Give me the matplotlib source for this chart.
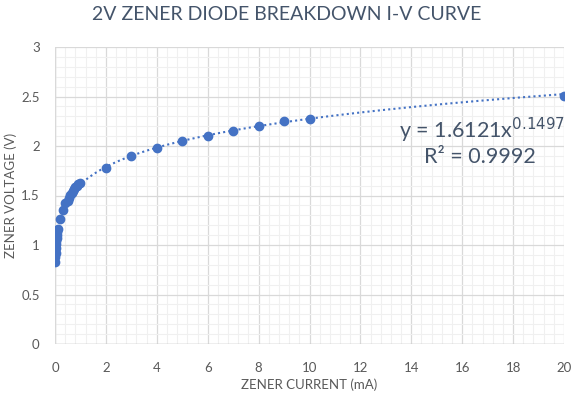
import numpy as np
import matplotlib
matplotlib.use("Agg")
import matplotlib.pyplot as plt
from matplotlib.ticker import MultipleLocator

plt.rcParams['font.family'] = ['Lato', 'DejaVu Sans']

# measured points (mA, V)
current = [0.01, 0.015, 0.02, 0.03, 0.04, 0.05, 0.06, 0.07, 0.08, 0.1,
           0.2, 0.3, 0.4, 0.5, 0.55, 0.6, 0.65, 0.7, 0.75, 0.8, 0.85, 0.9, 1.0,
           2, 3, 4, 5, 6, 7, 8, 9, 10, 20]
voltage = [0.83, 0.88, 0.92, 0.97, 1.01, 1.04, 1.07, 1.10, 1.13, 1.16,
           1.26, 1.35, 1.42, 1.44, 1.47, 1.51, 1.53, 1.55, 1.57, 1.59, 1.60, 1.62, 1.63,
           1.78, 1.90, 1.98, 2.05, 2.10, 2.15, 2.20, 2.25, 2.27, 2.51]

# power trendline reported by the chart
fit_a = 1.6121
fit_b = 0.1497
r2 = 0.9992

blue = "#4472C4"
grey_txt = "#595959"

fig = plt.figure(figsize=(5.74, 3.98), dpi=100)
ax = fig.add_axes([55/574, 1-344/398, 509/574, 297/398])

xs = np.linspace(min(current), 20, 400)
ax.plot(xs, fit_a * xs ** fit_b, linestyle=(0, (1, 1.5)), color=blue, lw=1.5, zorder=3)
ax.plot(current, voltage, "o", color=blue, ms=6, zorder=4)

ax.set_xlim(0, 20)
ax.set_ylim(0, 3)
ax.xaxis.set_major_locator(MultipleLocator(2))
ax.xaxis.set_minor_locator(MultipleLocator(0.4))
ax.yaxis.set_major_locator(MultipleLocator(0.5))
ax.yaxis.set_minor_locator(MultipleLocator(0.1))
ax.set_yticks([0, 0.5, 1, 1.5, 2, 2.5, 3], ["0", "0.5", "1", "1.5", "2", "2.5", "3"])
ax.grid(which="major", color="#d9d9d9", lw=0.9)
ax.grid(which="minor", color="#f0f0f0", lw=0.8)
ax.set_axisbelow(True)
for s in ax.spines.values():
    s.set_visible(False)
ax.axhline(0, color="#bfbfbf", lw=1, zorder=2)
ax.axvline(0, color="#d9d9d9", lw=1, zorder=2)
ax.tick_params(which="both", length=0, labelsize=9.5, colors=grey_txt)
ax.tick_params(axis="x", which="major", pad=13)
ax.tick_params(axis="y", which="major", pad=11)

ax.set_xlabel("ZENER CURRENT (mA)", fontsize=9.5, color=grey_txt, labelpad=3)
ax.set_ylabel("ZENER VOLTAGE (V)", fontsize=9.5, color=grey_txt, labelpad=3)
fig.text(287/574, 1-14/398, "2V ZENER DIODE BREAKDOWN I-V CURVE", ha="center", va="center",
         fontsize=14, color="#44546A")

ax.text(16.8, 2.16, "y = 1.6121x$^{0.1497}$", fontsize=15.5, color="#44546A", ha="center", va="center")
ax.text(16.7, 1.89, "R² = 0.9992", fontsize=15.5, color="#44546A", ha="center", va="center")

fig.savefig("out.png", dpi=100)
